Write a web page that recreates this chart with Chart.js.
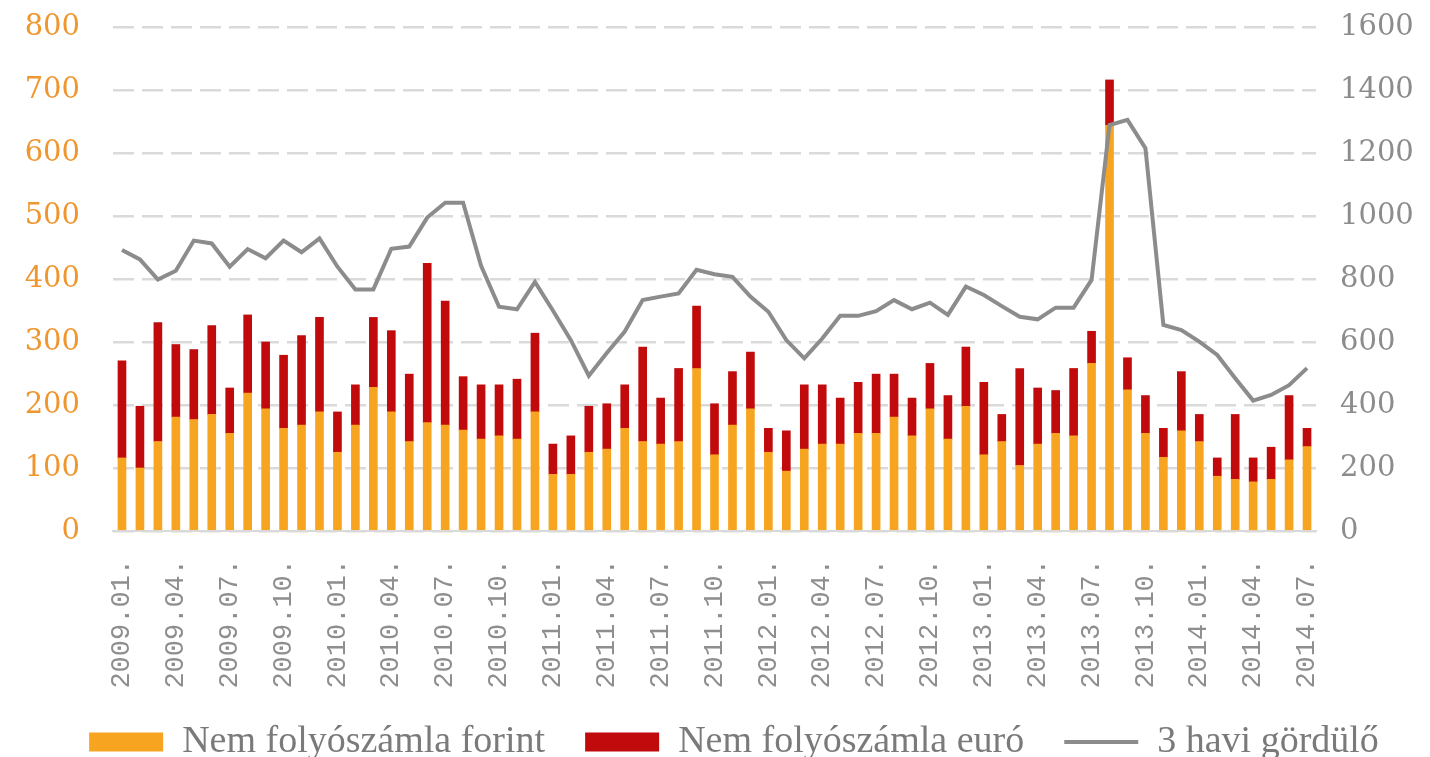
<!DOCTYPE html>
<html>
<head>
<meta charset="utf-8">
<script src="https://cdn.jsdelivr.net/npm/chart.js@4.4.1/dist/chart.umd.min.js"></script>
<style>
  html, body { margin: 0; padding: 0; background: #ffffff; overflow: hidden; }
  #wrap { width: 1430px; height: 757px; overflow: hidden; position: relative; }
  canvas { display: block; }
</style>
</head>
<body>
<div id="wrap"><canvas id="c" width="1430" height="784"></canvas></div>
<script>
const months = [
  "2009.01.","2009.02.","2009.03.","2009.04.","2009.05.","2009.06.","2009.07.","2009.08.","2009.09.","2009.10.","2009.11.","2009.12.",
  "2010.01.","2010.02.","2010.03.","2010.04.","2010.05.","2010.06.","2010.07.","2010.08.","2010.09.","2010.10.","2010.11.","2010.12.",
  "2011.01.","2011.02.","2011.03.","2011.04.","2011.05.","2011.06.","2011.07.","2011.08.","2011.09.","2011.10.","2011.11.","2011.12.",
  "2012.01.","2012.02.","2012.03.","2012.04.","2012.05.","2012.06.","2012.07.","2012.08.","2012.09.","2012.10.","2012.11.","2012.12.",
  "2013.01.","2013.02.","2013.03.","2013.04.","2013.05.","2013.06.","2013.07.","2013.08.","2013.09.","2013.10.","2013.11.","2013.12.",
  "2014.01.","2014.02.","2014.03.","2014.04.","2014.05.","2014.06.","2014.07."
];

// Nem folyószámla forint (left axis)
const forint = [
  116, 100, 142, 181, 177, 185, 155, 219, 194, 163, 168, 189,
  125, 168, 228, 189, 142, 172, 168, 160, 146, 151, 146, 189,
  90, 90, 125, 130, 163, 142, 138, 142, 258, 121, 168, 194,
  125, 95, 130, 138, 138, 155, 155, 181, 151, 194, 146, 198,
  121, 142, 104, 138, 155, 151, 266, 644, 224, 155, 117, 159,
  142, 87, 82, 78, 82, 113, 134
];

// Nem folyószámla euró (left axis, stacked on forint)
const euro = [
  154, 98, 189, 115, 111, 141, 72, 124, 106, 116, 142, 150,
  64, 64, 111, 129, 107, 253, 197, 85, 86, 81, 95, 125,
  48, 61, 73, 72, 69, 150, 73, 116, 99, 81, 85, 90,
  38, 64, 102, 94, 73, 81, 94, 68, 60, 72, 69, 94,
  115, 43, 154, 89, 68, 107, 51, 72, 51, 60, 46, 94,
  43, 29, 103, 38, 51, 102, 29
];

// 3 havi gördülő (right axis)
const rolling = [
  892, 862, 798, 826, 922, 913, 839, 895, 866, 922, 885, 929,
  839, 767, 767, 896, 903, 995, 1042, 1042, 842, 712, 704, 791,
  700, 606, 493, 565, 633, 733, 744, 754, 829, 815, 807, 744,
  696, 606, 548, 611, 683, 683, 698, 733, 704, 725, 686, 776,
  749, 714, 680, 672, 709, 709, 797, 1289, 1305, 1215, 654, 638,
  601, 559, 485, 414, 432, 463, 517
];

const leftTicks = [0, 100, 200, 300, 400, 500, 600, 700, 800];
const rightTicks = [0, 200, 400, 600, 800, 1000, 1200, 1400, 1600];

const ORANGE = '#F7A521';
const RED = '#C00A0B';
const GREY = '#8C8C8C';

const LEGEND_PAD = 40;

// shift legend to match the reference placement (text centre at y≈742, centred at x≈734)
const legendShift = {
  id: 'legendShift',
  afterLayout(chart) {
    const l = chart.legend;
    if (!l) return;
    const dy = (l.top + LEGEND_PAD + 19) - 742;
    const dx = 19;
    l.top -= dy; l.bottom -= dy;
    l.left += dx; l.right += dx;
  }
};

function noPad(s) { s.paddingTop = 0; s.paddingBottom = 0; s.paddingLeft = 0; s.paddingRight = 0; }

new Chart(document.getElementById('c'), {
  data: {
    labels: months,
    datasets: [
      { type: 'bar', label: 'Nem folyószámla forint', data: forint, backgroundColor: ORANGE,
        borderWidth: 0, barThickness: 8, yAxisID: 'y', order: 1, stack: 's' },
      { type: 'bar', label: 'Nem folyószámla euró', data: euro, backgroundColor: RED,
        borderWidth: 0, barThickness: 8, yAxisID: 'y', order: 2, stack: 's' },
      { type: 'line', label: '3 havi gördülő', data: rolling, borderColor: GREY, backgroundColor: GREY,
        borderWidth: 4, pointRadius: 0, tension: 0, yAxisID: 'y2', order: 0 }
    ]
  },
  plugins: [legendShift],
  options: {
    responsive: false,
    animation: false,
    layout: { autoPadding: false, padding: { left: 0, right: 0, top: 27, bottom: 0 } },
    plugins: {
      tooltip: { enabled: false },
      legend: {
        position: 'bottom',
        labels: {
          usePointStyle: true,
          pointStyleWidth: 74,
          boxHeight: 19,
          padding: LEGEND_PAD,
          color: '#7a7a7a',
          font: { family: '"Liberation Serif", serif', size: 38 },
          generateLabels: (chart) => chart.data.datasets.map((ds, i) => ({
            text: ds.label,
            fillStyle: ds.type === 'line' ? ds.borderColor : ds.backgroundColor,
            strokeStyle: ds.type === 'line' ? ds.borderColor : ds.backgroundColor,
            lineWidth: ds.type === 'line' ? 4 : 0,
            pointStyle: ds.type === 'line' ? 'line' : 'rect',
            fontColor: '#7a7a7a',
            hidden: false,
            datasetIndex: i
          }))
        }
      }
    },
    scales: {
      x: {
        stacked: true,
        offset: true,
        grid: { display: false, drawTicks: false },
        border: { display: true, color: '#d9d9d9', width: 2 },
        afterFit: (s) => { s.height = 165; noPad(s); },
        ticks: {
          autoSkip: false,
          maxRotation: 90,
          minRotation: 90,
          padding: 28,
          color: '#8e8e8e',
          font: { family: '"Liberation Mono", monospace', size: 27 },
          callback: function(v, i) { return i % 3 === 0 ? months[i] : ''; }
        }
      },
      y: {
        stacked: true,
        position: 'left',
        min: leftTicks[0],
        max: leftTicks[leftTicks.length - 1],
        afterBuildTicks: (s) => { s.ticks = leftTicks.map(v => ({ value: v })); },
        afterFit: (s) => { s.width = 113; noPad(s); },
        grid: { color: '#dadada', lineWidth: 2.5, drawTicks: false },
        border: { display: false, dash: [21, 8] },
        ticks: {
          padding: 33,
          color: '#F0962E',
          font: { family: '"DejaVu Serif", serif', size: 29 },
          callback: (v) => String(v)
        }
      },
      y2: {
        position: 'right',
        min: rightTicks[0],
        max: rightTicks[rightTicks.length - 1],
        afterBuildTicks: (s) => { s.ticks = rightTicks.map(v => ({ value: v })); },
        afterFit: (s) => { s.width = 114; noPad(s); },
        grid: { drawOnChartArea: false, drawTicks: false },
        border: { display: false },
        ticks: {
          padding: 24,
          color: '#8c8c8c',
          font: { family: '"DejaVu Serif", serif', size: 29 },
          callback: (v) => String(v)
        }
      }
    }
  }
});
</script>
</body>
</html>
